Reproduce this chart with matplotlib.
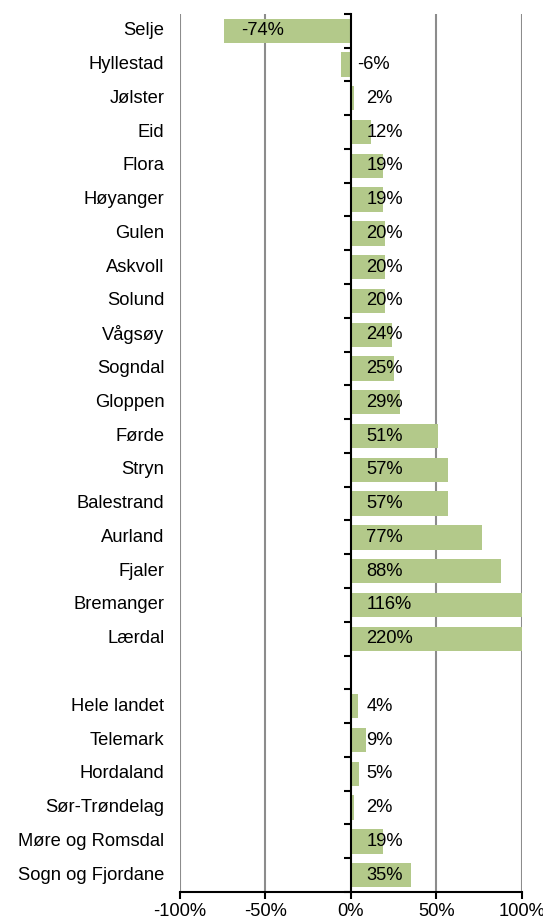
import numpy as np
import matplotlib.pyplot as plt
import matplotlib.transforms as mtransforms

plt.rcParams['font.family'] = ['Liberation Sans', 'DejaVu Sans']

# Kategorier (ovenfra og ned), tom plass mellom kommuner og fylker
kategorier = ["Selje", "Hyllestad", "Jølster", "Eid", "Flora", "Høyanger", "Gulen",
              "Askvoll", "Solund", "Vågsøy", "Sogndal", "Gloppen", "Førde", "Stryn",
              "Balestrand", "Aurland", "Fjaler", "Bremanger", "Lærdal", "",
              "Hele landet", "Telemark", "Hordaland", "Sør-Trøndelag",
              "Møre og Romsdal", "Sogn og Fjordane"]
verdier = [-74, -6, 2, 12, 19, 19, 20, 20, 20, 24, 25, 29, 51, 57, 57, 77, 88, 116, 220,
           np.nan, 4, 9, 5, 2, 19, 35]
x_ticks = [-100, -50, 0, 50, 100]

fs = 13.2

fig = plt.figure(figsize=(5.43, 9.22), dpi=100)
ax = fig.add_axes([0.331, 0.0325, 0.63, 0.9525])

y = np.arange(len(kategorier))
vals = np.array(verdier, dtype=float)
ax.barh(y, np.nan_to_num(vals), height=0.72, color='#b3c98a', zorder=2)

ax.set_xlim(-100, 100)
ax.set_ylim(len(kategorier) - 0.5, -0.5)

# gridlinjer
for g in [-100, -50, 50, 100]:
    ax.axvline(g, color='#8c8c8c', lw=1.5, zorder=1)

# akser
for s in ['top', 'right']:
    ax.spines[s].set_visible(False)
ax.spines['left'].set_position(('data', 0))
ax.spines['left'].set_linewidth(1.5)
ax.spines['left'].set_zorder(3)
ax.spines['bottom'].set_linewidth(1.5)
ax.set_yticks(np.arange(-0.5, len(kategorier), 1))
ax.set_yticklabels([])
ax.tick_params(axis='y', direction='out', length=5, width=1.5)
ax.set_xticks(x_ticks)
ax.set_xticklabels([f"{t}%" for t in x_ticks], fontsize=fs)
ax.tick_params(axis='x', direction='out', length=5, width=1.5, pad=3)

# kategorinavn
trans = mtransforms.blended_transform_factory(ax.transAxes, ax.transData)
for yi, k in zip(y, kategorier):
    ax.text(-0.045, yi, k, transform=trans, ha='right', va='center', fontsize=fs)

# dataetiketter
for yi, v in zip(y, vals):
    if np.isnan(v):
        continue
    if v < -20:
        xp, ha = v + 10, 'left'
    elif v < 0:
        xp, ha = 4, 'left'
    else:
        xp, ha = 9, 'left'
    ax.text(xp, yi, f"{int(v)}%", ha=ha, va='center', fontsize=fs, zorder=4)

fig.savefig("out.png", dpi=100)
